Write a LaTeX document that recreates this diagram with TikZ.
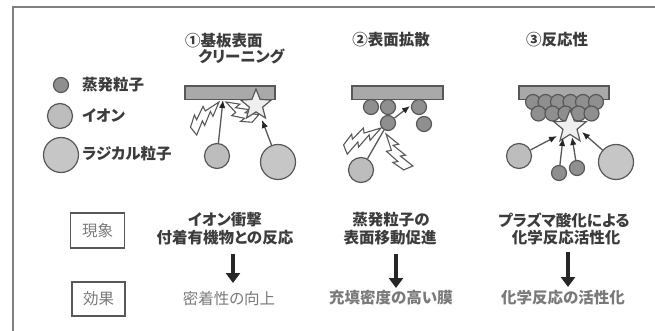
\documentclass[tikz,border=0pt]{standalone}
\usepackage{fontspec}
\newfontfamily\jp[RawFeature=+palt]{Noto Sans CJK JP}
\usetikzlibrary{arrows.meta,shapes.geometric,calc}

\definecolor{edge}{HTML}{585858}
\definecolor{plategray}{HTML}{A9A9A9}
\definecolor{evapfill}{HTML}{8F8F8F}
\definecolor{ionfill}{HTML}{BDBDBD}
\definecolor{radfill}{HTML}{C6C6C6}
\definecolor{starfill}{HTML}{EFEFEF}
\definecolor{titlecol}{HTML}{3C3C3C}
\definecolor{softtext}{HTML}{7A7A7A}
\definecolor{framecol}{HTML}{808080}

\tikzset{
  plate/.style={draw=edge, fill=plategray, line width=1.3pt},
  particle/.style={circle, draw=edge, line width=1.2pt, inner sep=0pt},
  evap/.style={particle, fill=evapfill, minimum size=15pt},
  ion/.style={particle, fill=ionfill, minimum size=25pt},
  radical/.style={particle, fill=radfill, minimum size=35pt},
  spark/.style={star, star points=5, star point ratio=2.3, draw=edge,
    fill=starfill, line width=1.2pt, inner sep=0pt},
  hit/.style={draw=edge, line width=1.3pt,
    -{Latex[length=8pt,width=6.5pt,color=black!85]}},
  trail/.style={draw=edge, line width=1.3pt},
  boltshape/.style={draw=edge, fill=white, line width=1.1pt, line join=miter},
  bolt/.pic={\draw[boltshape] (0,0) -- (0.36,-7.5) -- (0.33,-2) -- (0.68,-9.5)
    -- (0.65,-4.5) -- (1,-12) -- (1,-2) -- (0.72,5) -- (0.75,0) -- (0.40,6.5)
    -- (0.43,1.5) -- cycle;},
  title/.style={font=\jp\bfseries\fontsize{15.5}{18}\selectfont, text=titlecol, inner sep=0pt},
  effect/.style={font=\jp\bfseries\fontsize{15.5}{18}\selectfont, text=softtext, inner sep=0pt},
  labelbox/.style={draw=edge, line width=1.2pt, minimum width=54pt, minimum height=35pt,
    inner sep=0pt, font=\jp\fontsize{15.5}{18}\selectfont, text=softtext},
  down/.style={line width=3.2pt, draw=black!85,
    -{Triangle[length=10pt,width=14pt]}},
}

\begin{document}
\begin{tikzpicture}[x=1pt,y=-1pt]
\useasboundingbox[fill=white] (0,0) rectangle (655,331);

% outer frame (only the top and left edges are inside the page)
\draw[framecol, line width=1.4pt] (13,331) -- (13,7) -- (655,7);

% ---------- legend ----------
\node[evap]    (lgE) at (61,85)  {};
\node[ion]     (lgI) at (60,116) {};
\node[radical] (lgR) at (61,155) {};
\node[title, anchor=west] (lgEt) at (82,85)  {蒸発粒子};
\node[title, anchor=west] (lgIt) at (82,116) {イオン};
\node[title, anchor=west] (lgRt) at (82,154) {ラジカル粒子};

% ---------- titles ----------
\node[title, anchor=west] (t1a) at (185,41) {①基板表面};
\node[title, anchor=west] (t1b) at (198,56) {クリーニング};
\node[title] (t2) at (391,40) {②表面拡散};
\node[title] (t3) at (557,40) {③反応性};

% ---------- panel 1: substrate cleaning ----------
\path[plate] (185,86) rectangle (275,99.5);
\node[ion]     (ion1) at (217,156) {};
\node[radical] (rad1) at (278,162) {};
\coordinate (imp1) at (223,100);
\pic[rotate=218.4, xscale=38] at (219,102) {bolt};
\pic[rotate=-41.2, xscale=33] at (226,102) {bolt};
\node[spark, minimum size=32pt] (st1) at (256,105) {};
\coordinate (st1in) at (262,120);
\draw[hit] (ion1) -- (imp1);
\draw[hit] (rad1) -- (st1in);

% ---------- panel 2: surface diffusion ----------
\path[plate] (352,86) rectangle (443,99.5);
\node[evap] (p2a) at (371,107) {};
\node[evap] (p2b) at (388,107) {};
\node[evap] (p2c) at (419,107) {};
\node[evap] (p2e) at (424,124) {};
\node[ion]  (ion2) at (361,170) {};
\coordinate (mv2) at (410,106);
\pic[rotate=201.5, xscale=41] at (381,128) {bolt};
\pic[rotate=-66.6, xscale=40] at (386,134) {bolt};
\node[evap] (p2d) at (388,123) {};
\draw[trail] (ion2) -- (p2d);
\draw[hit] (p2d) -- (mv2);

% ---------- panel 3: reactivity ----------
\path[plate] (519,86) rectangle (609,99.5);
\foreach \i/\x in {1/533,2/545.5,3/558,4/570.5,5/583,6/596}
  \node[evap] (q3t\i) at (\x,102) {};
\foreach \i/\x in {1/538.5,2/552.5,3/565.5,4/578.5,5/591.5}
  \node[evap] (q3b\i) at (\x,113.5) {};
\node[spark, minimum size=34pt] (st3) at (570,127) {};
\node[ion]     (ion3) at (519,156) {};
\node[radical] (rad3) at (616,162) {};
\node[evap]    (e3a)  at (559,173) {};
\node[evap]    (e3b)  at (577,168) {};
\coordinate (a3L) at (557,136);
\coordinate (a3a) at (563,138);
\coordinate (a3b) at (572,137);
\coordinate (a3R) at (582,132);
\draw[hit] (ion3) -- (a3L);
\draw[hit] (e3a) -- (a3a);
\draw[hit] (e3b) -- (a3b);
\draw[hit] (rad3) -- (a3R);

% ---------- phenomena and effects ----------
\node[labelbox] (bx1) at (97.5,230.5) {現象};
\node[labelbox, minimum width=53pt, minimum height=34pt] (bx2) at (98.5,299) {効果};

\node[title] (ph1a) at (225,220) {イオン衝撃};
\node[title] (ph1b) at (225,238) {付着有機物との反応};
\node[title] (ph2a) at (391,220) {蒸発粒子の};
\node[title] (ph2b) at (390,238) {表面移動促進};
\node[title] (ph3a) at (564,220) {プラズマ酸化による};
\node[title] (ph3b) at (566,238) {化学反応活性化};

\node[effect, font=\jp\fontsize{15.5}{18}\selectfont] (ef1) at (229,299) {密着性の向上};
\node[effect] (ef2) at (391,298) {充填密度の高い膜};
\node[effect] (ef3) at (563,298) {化学反応の活性化};

\coordinate (d1s) at (233,254); \coordinate (d1e) at (233,283);
\coordinate (d2s) at (396,254); \coordinate (d2e) at (396,288);
\coordinate (d3s) at (568,252); \coordinate (d3e) at (568,287);
\draw[down] (d1s) -- (d1e);
\draw[down] (d2s) -- (d2e);
\draw[down] (d3s) -- (d3e);
\end{tikzpicture}
\end{document}
